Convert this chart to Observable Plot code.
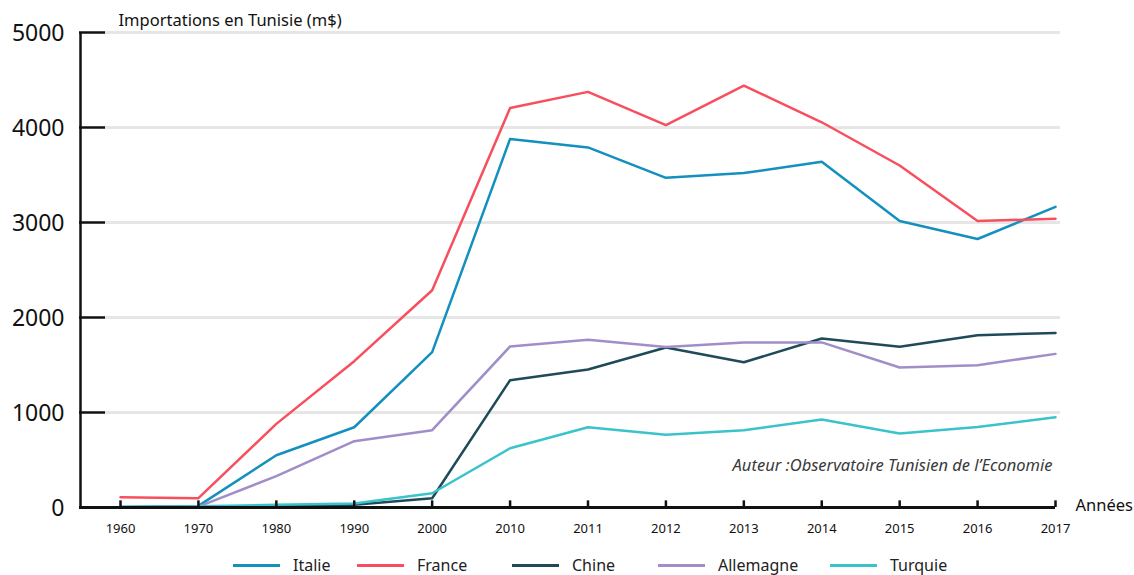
<!DOCTYPE html>
<html>
<head>
<meta charset="utf-8">
<script src="https://cdn.jsdelivr.net/npm/d3@7"></script>
<script src="https://cdn.jsdelivr.net/npm/@observablehq/plot@0.6"></script>
<style>
  body { margin: 0; background: #fff; font-family: "Noto Sans", sans-serif; }
  #wrap { position: relative; width: 1134px; height: 575px; overflow: hidden; }
  #legend { position: absolute; left: 0; top: 555px; width: 1134px; height: 20px; }
  .item { position: absolute; top: 0; display: flex; align-items: center; font-size: 16px; line-height: 20px; color: #222; }
  .sw { display: inline-block; width: 47px; height: 3px; margin-right: 13px; }
</style>
</head>
<body>
<div id="wrap">
  <div id="chart"></div>
  <div id="legend"></div>
</div>
<script>
const years = ["1960","1970","1980","1990","2000","2010","2011","2012","2013","2014","2015","2016","2017"];
const yTicks = [0, 1000, 2000, 3000, 4000, 5000];
const seriesNames = ["Italie", "France", "Chine", "Allemagne", "Turquie"];
const seriesColors = ["#1490bf", "#f84f5e", "#1f4a58", "#a08ec9", "#3bc3cc"];
const italie    = [5, 17, 550, 845, 1635, 3880, 3790, 3470, 3520, 3640, 3015, 2826, 3165];
const france    = [108, 98, 880, 1540, 2287, 4205, 4375, 4025, 4440, 4055, 3600, 3015, 3040];
const chine     = [0, 0, 12, 28, 98, 1340, 1453, 1685, 1529, 1779, 1691, 1814, 1838];
const allemagne = [5, 10, 330, 698, 814, 1695, 1765, 1690, 1738, 1738, 1474, 1498, 1617];
const turquie   = [5, 12, 28, 42, 150, 624, 845, 765, 814, 926, 779, 848, 950];
const yTitle = "Importations en Tunisie (m$)";
const xTitle = "Années";
const credit = "Auteur :Observatoire Tunisien de l’Economie";

const seriesValues = [italie, france, chine, allemagne, turquie];
const data = [];
seriesNames.forEach((name, i) => {
  years.forEach((yr, j) => data.push({serie: name, year: yr, value: seriesValues[i][j]}));
});

const font = "Noto Sans, sans-serif";
const chart = Plot.plot({
  width: 1134,
  height: 550,
  marginLeft: 80,
  marginRight: 79,
  marginTop: 32,
  marginBottom: 43,
  style: {fontFamily: font, background: "#fff", overflow: "visible"},
  x: {type: "point", domain: years, range: [120, 1055], padding: 0, round: false, axis: null},
  y: {domain: [0, 5000], range: [507, 32], axis: null},
  color: {domain: seriesNames, range: seriesColors},
  marks: [
    // gridlines
    Plot.ruleY(yTicks.filter(d => d > 0), {y: d => d, x1: () => "1960", x2: () => "2017", insetLeft: -15, insetRight: -5, stroke: "#e6e6e6", strokeWidth: 3}),
    // y axis line & ticks
    Plot.ruleX(["1960"], {x: d => d, y1: 0, y2: 5000, dx: -40, stroke: "#111", strokeWidth: 2.5}),
    Plot.ruleY(yTicks, {y: d => d, x1: () => "1960", x2: () => "1960", insetLeft: -41, insetRight: 15, stroke: "#111", strokeWidth: 2.5}),
    // y tick labels
    Plot.text(yTicks, {x: () => "1960", y: d => d, text: d => String(d), dx: -56, dy: 1, textAnchor: "end", fontSize: 23, fill: "#111"}),
    // lines
    Plot.line(data, {x: "year", y: "value", z: "serie", stroke: "serie", strokeWidth: 2.5}),
    // x axis line and ticks
    Plot.ruleY([0], {x1: () => "1960", x2: () => "2017", insetLeft: -41, stroke: "#111", strokeWidth: 3}),
    Plot.ruleX(years, {x: d => d, y1: 0, y2: 70, stroke: "#111", strokeWidth: 2.5}),
    // x tick labels
    Plot.text(years, {x: d => d, y: () => 0, text: d => d, dy: 21, fontSize: 13, fill: "#111"}),
    // titles
    Plot.text([yTitle], {x: () => "1960", y: () => 5000, text: d => d, dx: -2, dy: -12, textAnchor: "start", fontSize: 16.5, fill: "#111"}),
    Plot.text([xTitle], {x: () => "2017", y: () => 0, text: d => d, dx: 20, dy: -2, textAnchor: "start", fontSize: 16.5, fill: "#111"}),
    Plot.text([credit], {x: () => "2017", y: () => 0, text: d => d, dx: -3, dy: -42, textAnchor: "end", fontSize: 16.5, fontStyle: "italic", fill: "#3a3a3a"})
  ]
});
document.getElementById("chart").appendChild(chart);

const legendPos = [233, 357, 512, 658, 830];
const legend = document.getElementById("legend");
seriesNames.forEach((name, i) => {
  const it = document.createElement("div");
  it.className = "item";
  it.style.left = legendPos[i] + "px";
  const sw = document.createElement("span");
  sw.className = "sw";
  sw.style.background = seriesColors[i];
  const lb = document.createElement("span");
  lb.textContent = name;
  it.appendChild(sw);
  it.appendChild(lb);
  legend.appendChild(it);
});
</script>
</body>
</html>
